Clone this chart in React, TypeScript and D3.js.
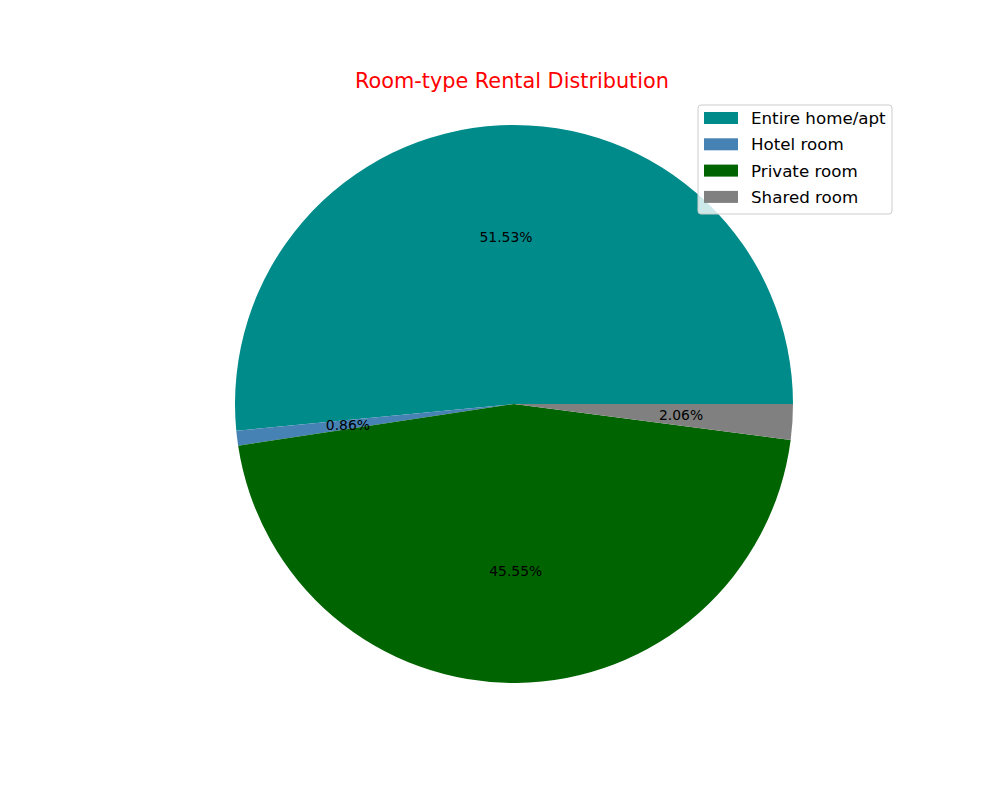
import React from 'react';
import * as d3 from 'd3';

const roomTypes = ['Entire home/apt', 'Hotel room', 'Private room', 'Shared room'];
const shares = [51.53, 0.86, 45.55, 2.06];
const colors = ['#008b8b', '#4682b4', '#006400', '#808080'];

const App = () => {
  const width = 1000;
  const height = 800;
  const cx = 514;
  const cy = 404;
  const r = 279;

  // matplotlib draws counterclockwise from 3 o'clock
  const pie = d3.pie<number>().sort(null).startAngle(Math.PI / 2).endAngle(Math.PI / 2 - 2 * Math.PI);
  const arcs = pie(shares);
  const arc = d3.arc<d3.PieArcDatum<number>>().innerRadius(0).outerRadius(r);
  const labelArc = d3.arc<d3.PieArcDatum<number>>().innerRadius(r * 0.6).outerRadius(r * 0.6);

  const legendX = 698;
  const legendY = 105;
  const rowH = 26.3;

  return (
    <svg width={width} height={height} style={{ display: 'block', margin: -8, fontFamily: 'DejaVu Sans, sans-serif' }}>
      <rect width={width} height={height} fill="#fff" />
      <text x={512} y={88} textAnchor="middle" fontSize={20.8} fill="red">
        Room-type Rental Distribution
      </text>
      <g transform={`translate(${cx},${cy})`}>
        {arcs.map((a, i) => (
          <path key={roomTypes[i]} d={arc(a) || ''} fill={colors[i]} />
        ))}
        {arcs.map((a, i) => {
          const [lx, ly] = labelArc.centroid(a);
          return (
            <text key={'l' + i} x={lx} y={ly} textAnchor="middle" dominantBaseline="central" fontSize={13.9} fill="#000">
              {shares[i].toFixed(2)}%
            </text>
          );
        })}
      </g>
      <g>
        <rect x={legendX} y={legendY} width={194} height={109} rx={3} fill="#fff" fillOpacity={0.8} stroke="#cccccc" strokeWidth={1} />
        {roomTypes.map((t, i) => (
          <g key={t} transform={`translate(${legendX + 6},${legendY + 13 + i * rowH})`}>
            <rect x={0} y={-6} width={34} height={12} fill={colors[i]} />
            <text x={47} y={0} dominantBaseline="central" fontSize={16.7} fill="#000">
              {t}
            </text>
          </g>
        ))}
      </g>
    </svg>
  );
};

export default App;
